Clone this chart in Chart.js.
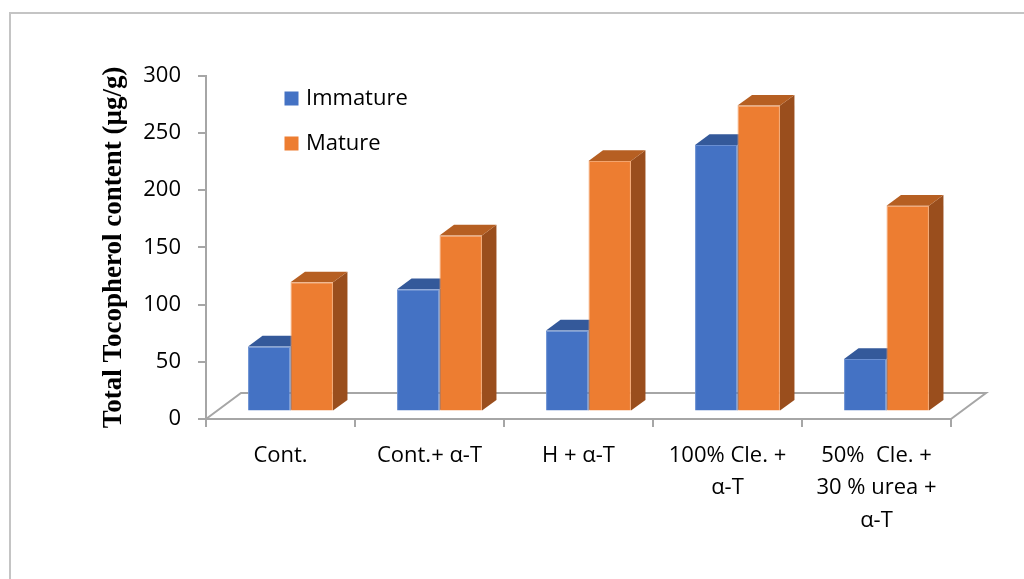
<!DOCTYPE html>
<html lang="en">
<head>
  <meta charset="UTF-8">
  <title>Total Tocopherol content</title>
  <style>
    body {
      margin: 0;
      padding: 0;
      width: 1024px;
      height: 579px;
      overflow: hidden;
      background: #ffffff;
      font-family: "Open Sans", Arial, sans-serif;
    }
    .frame {
      position: absolute;
      left: 9px;
      top: 12px;
      width: 1100px;
      height: 700px;
      border: 2px solid #c4c4c4;
    }
    #chart {
      position: absolute;
      left: 0;
      top: 0;
    }
  </style>
</head>
<body>
  <div class="frame"></div>
  <canvas id="chart" width="1024" height="579"></canvas>

  <script src="https://cdn.jsdelivr.net/npm/chart.js"></script>
  <script>
    // values
    const categories = [
      'Cont.',
      'Cont.+ α-T',
      'H + α-T',
      ['100% Cle. +', 'α-T'],
      ['50%  Cle. +', '30 % urea +', 'α-T']
    ];
    const immature = [57, 107, 71, 233, 46];
    const mature = [113, 154, 219, 267.5, 180];
    const yTicks = [0, 50, 100, 150, 200, 250, 300];

    const AXIS_GREY = '#a6a6a6';
    const tickFont = { family: 'Open Sans', size: 22 };

    // 3D look: bars sit a bit back on the floor, with a side and a top face
    const FLOOR = { dx: 35, dy: -26 };
    const SHIFT = { dx: 10, dy: -7.4 };
    const DEPTH = { dx: 14.5, dy: -10.7 };

    const shades = [
      { top: '#34599a', side: '#2b4c84' },
      { top: '#b65f22', side: '#9a4e1d' }
    ];

    function poly(ctx, pts, fill) {
      ctx.beginPath();
      ctx.moveTo(pts[0][0], pts[0][1]);
      for (let i = 1; i < pts.length; i++) ctx.lineTo(pts[i][0], pts[i][1]);
      ctx.closePath();
      ctx.fillStyle = fill;
      ctx.fill();
    }

    const threeD = {
      id: 'threeD',
      beforeDatasetsDraw(chart) {
        const ctx = chart.ctx;
        const a = chart.chartArea;
        const y0 = chart.scales.y.getPixelForValue(0);

        // floor outline (front edge is the x axis border)
        ctx.save();
        ctx.strokeStyle = AXIS_GREY;
        ctx.lineWidth = 2;
        ctx.beginPath();
        ctx.moveTo(a.left, y0);
        ctx.lineTo(a.left + FLOOR.dx, y0 + FLOOR.dy);
        ctx.lineTo(a.right + FLOOR.dx, y0 + FLOOR.dy);
        ctx.lineTo(a.right, y0);
        ctx.stroke();
        ctx.restore();

        // move bars back into the floor; restored after the datasets are drawn
        ctx.save();
        ctx.translate(SHIFT.dx, SHIFT.dy);

        const metas = chart.data.datasets.map((d, i) => chart.getDatasetMeta(i));
        for (let j = 0; j < categories.length; j++) {
          metas.forEach((meta, i) => {
            const el = meta.data[j];
            if (!el) return;
            const p = el.getProps(['x', 'y', 'base', 'width'], true);
            const L = p.x - p.width / 2, R = p.x + p.width / 2;
            const T = p.y, B = p.base;
            poly(ctx, [[R, T], [R + DEPTH.dx, T + DEPTH.dy], [R + DEPTH.dx, B + DEPTH.dy], [R, B]], shades[i].side);
            poly(ctx, [[L, T], [R, T], [R + DEPTH.dx, T + DEPTH.dy], [L + DEPTH.dx, T + DEPTH.dy]], shades[i].top);
          });
        }
      },
      afterDatasetsDraw(chart) {
        chart.ctx.restore();
      },
      afterDraw(chart) {
        // legend inside the plot, as in the picture
        const ctx = chart.ctx;
        ctx.save();
        ctx.font = '22px "Open Sans"';
        ctx.textBaseline = 'middle';
        ctx.textAlign = 'left';
        chart.data.datasets.forEach((ds, i) => {
          const y = 91.5 + i * 45;
          ctx.fillStyle = ds.backgroundColor;
          ctx.fillRect(284.5, y, 14, 14);
          ctx.fillStyle = '#000000';
          ctx.fillText(ds.label, 306, y + 7.5);
        });
        ctx.restore();
      }
    };

    const ctx = document.getElementById('chart').getContext('2d');
    const chart = new Chart(ctx, {
      type: 'bar',
      data: {
        labels: categories,
        datasets: [
          {
            label: 'Immature',
            data: immature,
            backgroundColor: '#4472c4',
            borderColor: '#6a8fd2',
            borderWidth: 1
          },
          {
            label: 'Mature',
            data: mature,
            backgroundColor: '#ed7d31',
            borderColor: '#f3a46d',
            borderWidth: 1
          }
        ]
      },
      options: {
        responsive: false,
        animation: false,
        layout: { padding: { left: 94, right: 73, top: 75.8, bottom: 0 } },
        datasets: {
          bar: { categoryPercentage: 0.57, barPercentage: 1 }
        },
        plugins: {
          legend: { display: false },
          tooltip: { enabled: false }
        },
        scales: {
          x: {
            grid: {
              display: true,
              drawOnChartArea: false,
              drawTicks: true,
              tickLength: 8,
              color: AXIS_GREY,
              lineWidth: 2
            },
            border: { display: true, color: AXIS_GREY, width: 2 },
            ticks: {
              color: '#000000',
              font: { family: 'Open Sans', size: 22, lineHeight: 1.48 },
              padding: 12,
              maxRotation: 0,
              autoSkip: false
            },
            afterFit(scale) { scale.height = 160; }
          },
          y: {
            min: 0,
            max: 300,
            afterBuildTicks(scale) {
              scale.ticks = yTicks.map(v => ({ value: v }));
            },
            grid: {
              display: true,
              drawOnChartArea: false,
              drawTicks: true,
              tickLength: 8,
              color: AXIS_GREY,
              lineWidth: 2
            },
            border: { display: true, color: AXIS_GREY, width: 2 },
            ticks: {
              color: '#000000',
              font: tickFont,
              padding: 17
            },
            title: {
              display: true,
              text: 'Total Tocopherol content (µg/g)',
              color: '#000000',
              font: { family: 'Liberation Serif', size: 27, weight: 'bold' },
              padding: { top: 4, bottom: 4 }
            },
            afterFit(scale) { scale.width = 112; }
          }
        }
      },
      plugins: [threeD]
    });
  </script>
</body>
</html>
